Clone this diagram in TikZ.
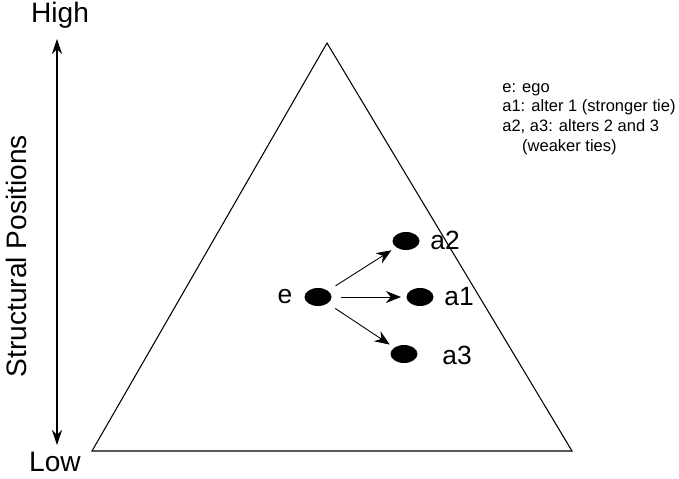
\documentclass[tikz,border=0pt]{standalone}
\usepackage{fontspec}
\setmainfont{Liberation Sans}
\usetikzlibrary{arrows.meta,positioning,shapes.geometric}

\begin{document}
\begin{tikzpicture}[
  x=0.02cm, y=-0.02cm,
  dotnode/.style={
    ellipse,
    fill=black,
    minimum width=0.54cm,
    minimum height=0.36cm,
    inner sep=0pt,
  },
  dotlbl/.style={
    font=\fontsize{15}{17}\selectfont,
    inner sep=1pt,
  },
  tie/.style={
    -{Stealth[length=3mm, width=2.4mm]},
    line width=0.5pt,
    shorten <=5pt,
    shorten >=3pt,
  },
  axislbl/.style={
    font=\fontsize{16}{18}\selectfont,
  },
]
\useasboundingbox (0,0) rectangle (679,479);

% =============================================================================
% Triangle of structural positions
% =============================================================================
\coordinate (apex) at (327,43);
\coordinate (baseleft) at (92,451);
\coordinate (baseright) at (572,451);
\draw[line width=0.6pt] (apex) -- (baseleft) -- (baseright) -- cycle;

% =============================================================================
% Vertical axis
% =============================================================================
\node[axislbl] (high) at (60,15) {High};
\node[axislbl] (low) at (55,462) {Low};
\coordinate (axistop) at (57,39);
\coordinate (axisbottom) at (57,445);
\draw[{Stealth[length=3mm, width=2mm]}-{Stealth[length=3mm, width=2mm]}, line width=0.6pt]
  (axistop) -- (axisbottom);
\node[axislbl, rotate=90] (axisname) at (16,256) {Structural Positions};

% =============================================================================
% Ego and alters
% =============================================================================
\node[dotnode] (ego) at (318,297) {};
\node[dotnode] (alter2) at (406,241) {};
\node[dotnode] (alter1) at (420,297) {};
\node[dotnode] (alter3) at (404,354) {};

\node[dotlbl] (egolbl) at (285,297) {e};
\node[dotlbl] (alter2lbl) at (445,240) {a2};
\node[dotlbl] (alter1lbl) at (459,297) {a1};
\node[dotlbl] (alter3lbl) at (457,355) {a3};

\draw[tie] (ego) -- (alter2);
\draw[tie] (ego) -- (alter1);
\draw[tie] (ego) -- (alter3);

% =============================================================================
% Legend
% =============================================================================
\node[anchor=north west, align=left, inner sep=0pt,
      font=\fontsize{9.4}{11.2}\selectfont] (legend) at (502,83) {%
  e: ego\\
  a1: alter 1 (stronger tie)\\
  a2, a3: alters 2 and 3\\
  \hspace{1.2em}(weaker ties)};

\end{tikzpicture}
\end{document}
